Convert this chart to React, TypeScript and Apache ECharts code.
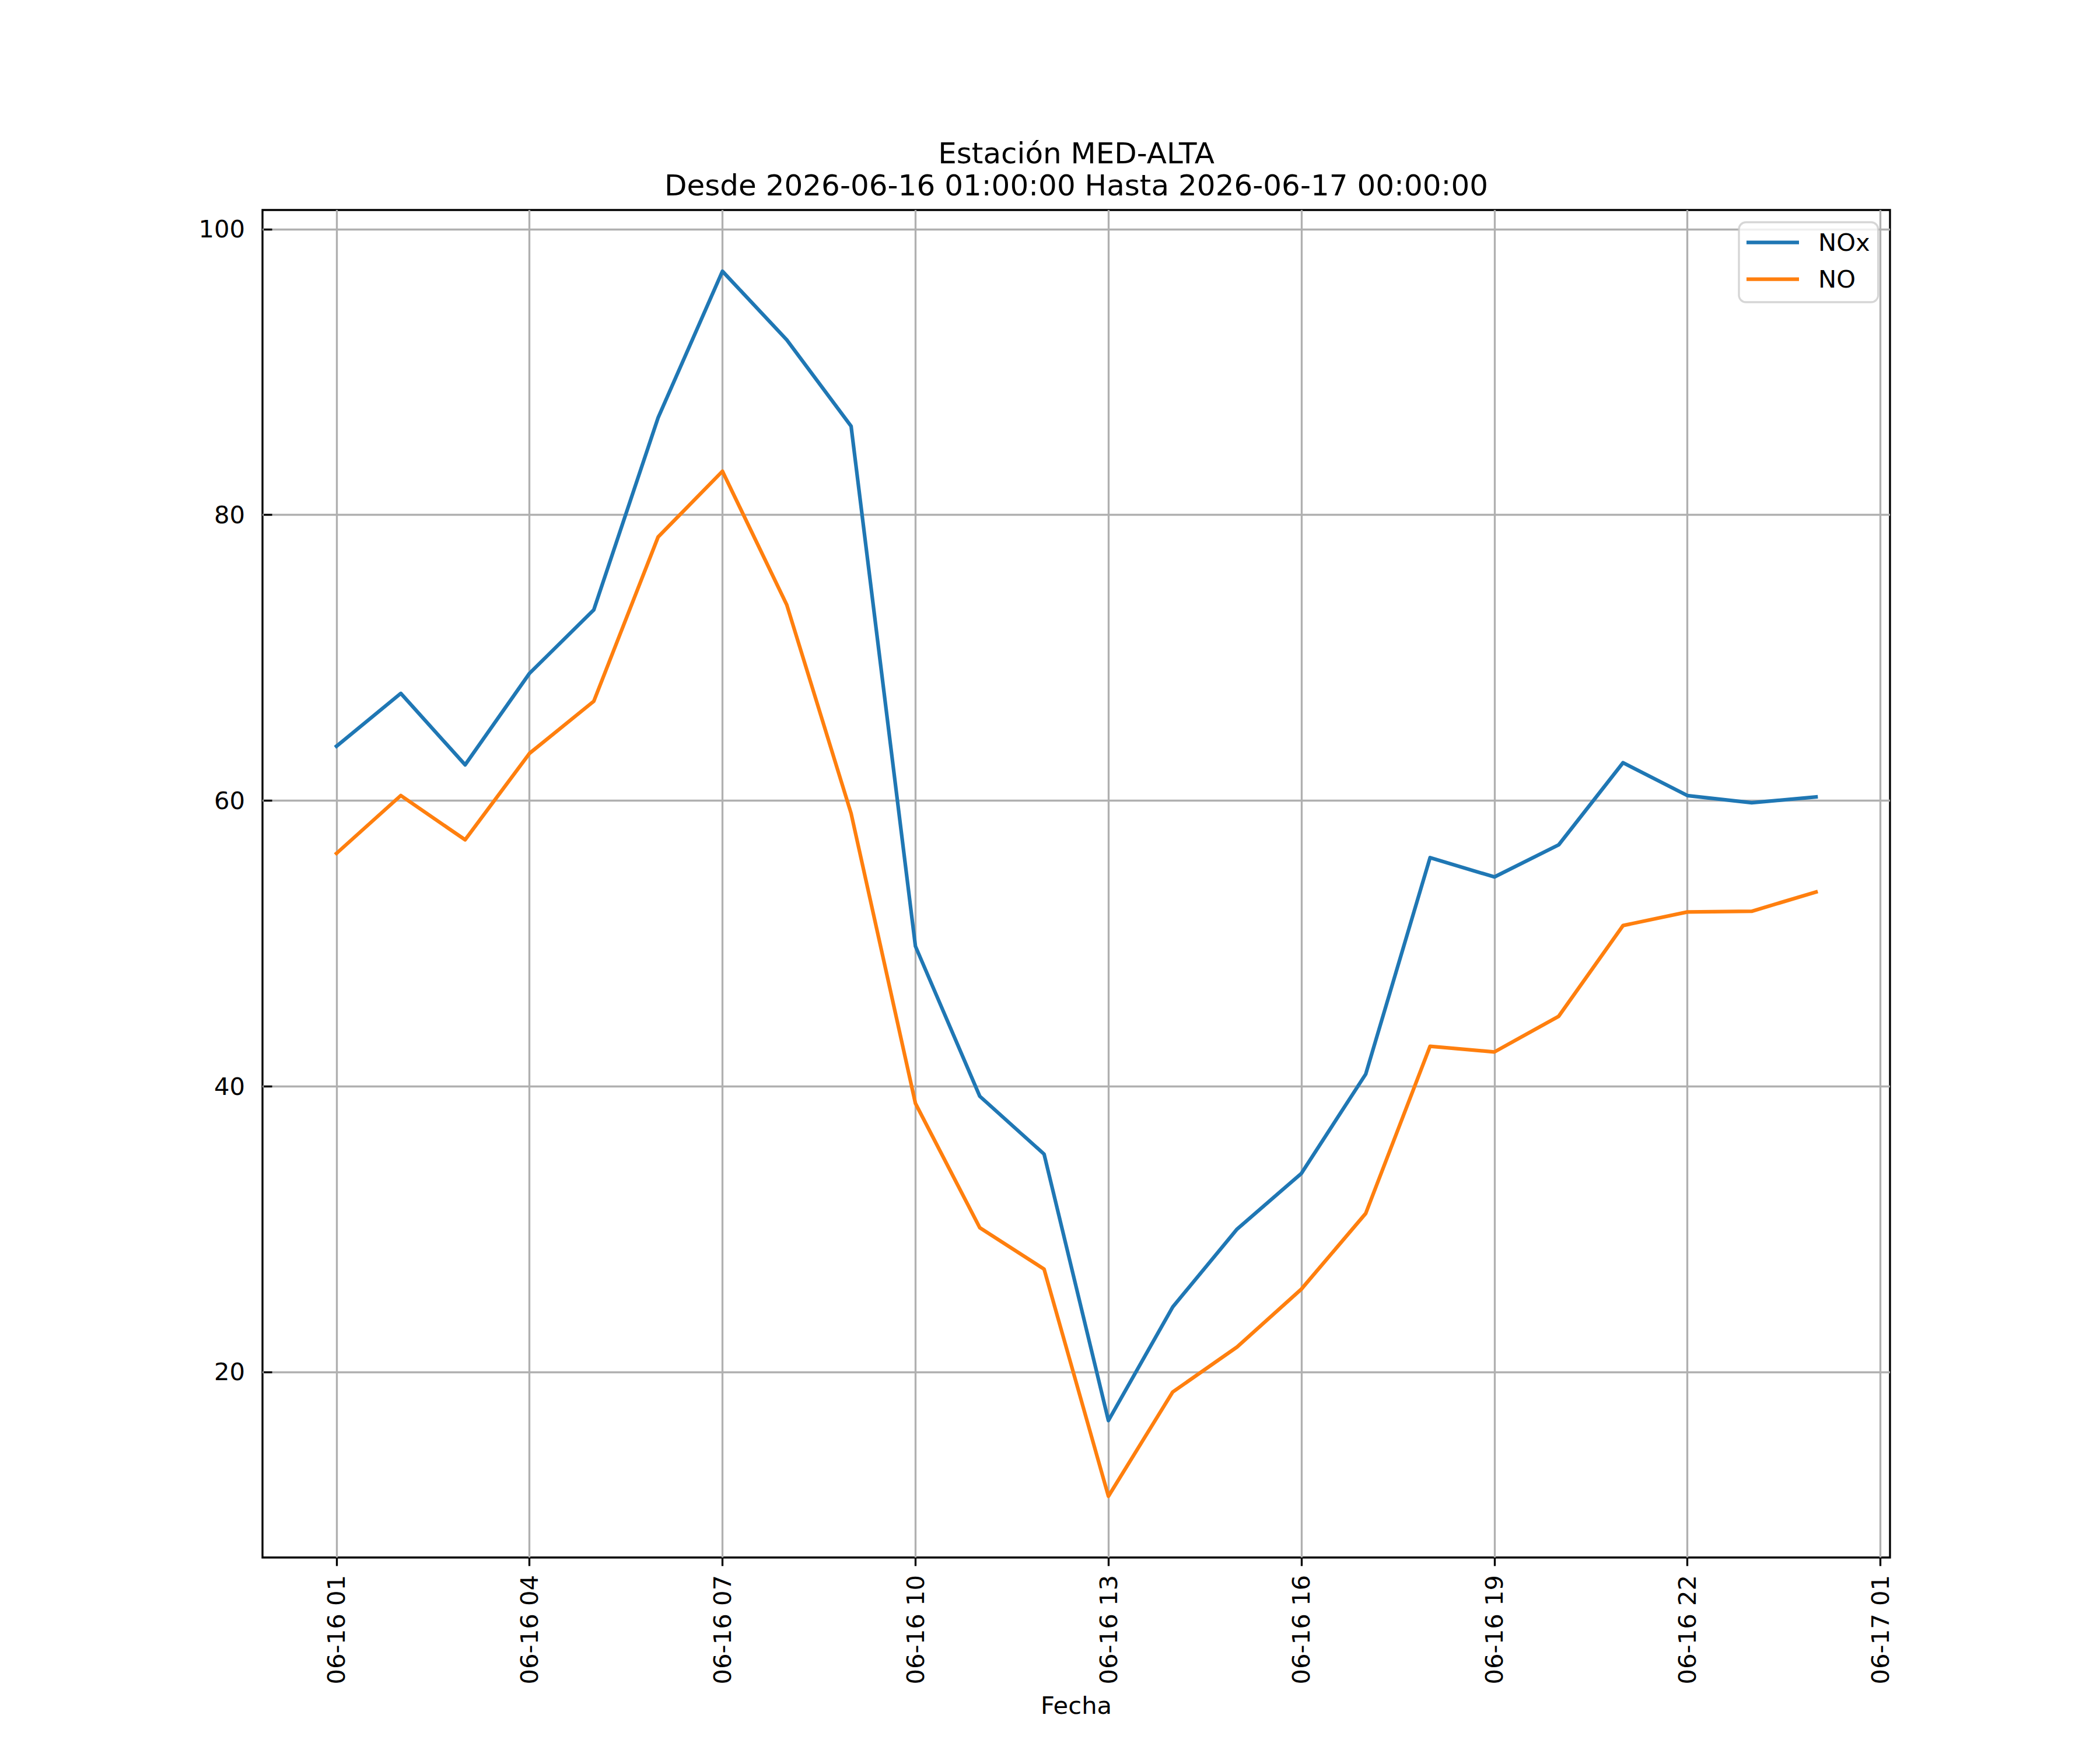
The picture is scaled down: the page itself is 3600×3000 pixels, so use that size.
import React, { useEffect, useRef } from "react";
import * as echarts from "echarts";

const timestamps = [
  "2026-06-16 01:00", "2026-06-16 02:00", "2026-06-16 03:00", "2026-06-16 04:00",
  "2026-06-16 05:00", "2026-06-16 06:00", "2026-06-16 07:00", "2026-06-16 08:00",
  "2026-06-16 09:00", "2026-06-16 10:00", "2026-06-16 11:00", "2026-06-16 12:00",
  "2026-06-16 13:00", "2026-06-16 14:00", "2026-06-16 15:00", "2026-06-16 16:00",
  "2026-06-16 17:00", "2026-06-16 18:00", "2026-06-16 19:00", "2026-06-16 20:00",
  "2026-06-16 21:00", "2026-06-16 22:00", "2026-06-16 23:00", "2026-06-17 00:00",
];

const noxValues = [
  63.8, 67.5, 62.5, 68.9, 73.35, 86.8, 97.05, 92.25, 86.2, 49.8, 39.3, 35.25,
  16.6, 24.55, 30.0, 33.9, 40.85, 56.0, 54.65, 56.9, 62.65, 60.35, 59.85, 60.25,
];

const noValues = [
  56.3, 60.35, 57.25, 63.3, 66.95, 78.45, 83.05, 73.7, 59.1, 38.8, 30.1, 27.2,
  11.3, 18.6, 21.75, 25.8, 31.1, 42.8, 42.4, 44.9, 51.25, 52.2, 52.25, 53.6,
];

const seriesNames = ["NOx", "NO"];
const seriesColors = ["#1f77b4", "#ff7f0e"];
const xTickHours = [1, 4, 7, 10, 13, 16, 19, 22, 25];
const yTickValues = [20, 40, 60, 80, 100];
const titleLines = [
  "Estación MED-ALTA",
  "Desde 2026-06-16 01:00:00 Hasta 2026-06-17 00:00:00",
];
const xAxisTitle = "Fecha";

const FONT = "DejaVu Sans";

function toHours(ts: string): number {
  const [d, t] = ts.split(" ");
  const day = parseInt(d.slice(8, 10), 10);
  const hr = parseInt(t.slice(0, 2), 10);
  return (day - 16) * 24 + hr;
}

function hourLabel(h: number): string {
  const hh = Math.round(h);
  const day = 16 + Math.floor(hh / 24);
  const hr = hh % 24;
  return `06-${day} ${String(hr).padStart(2, "0")}`;
}

export default function App() {
  const ref = useRef<HTMLDivElement>(null);

  useEffect(() => {
    document.body.style.margin = "0";
    if (!ref.current) return;
    const chart = echarts.init(ref.current, undefined, { renderer: "svg" });

    const xs = timestamps.map(toHours);
    const xMinD = Math.min(...xs);
    const xMaxD = Math.max(...xs);
    const xPad = (xMaxD - xMinD) * 0.05;
    const allY = [...noxValues, ...noValues];
    const yMinD = Math.min(...allY);
    const yMaxD = Math.max(...allY);
    const yPad = (yMaxD - yMinD) * 0.05;

    const gridLeft = 450;
    const gridTop = 360;
    const gridW = 2790;
    const gridH = 2310;
    const cx = gridLeft + gridW / 2;

    const values = [noxValues, noValues];

    chart.setOption({
      animation: false,
      backgroundColor: "#ffffff",
      grid: {
        left: gridLeft,
        top: gridTop,
        width: gridW,
        height: gridH,
        show: true,
        borderColor: "#000000",
        borderWidth: 3.33,
        backgroundColor: "transparent",
        containLabel: false,
      },
      xAxis: {
        type: "value",
        min: xMinD - xPad,
        max: xMaxD + xPad,
        axisLine: { show: false },
        axisTick: {
          show: true,
          customValues: xTickHours,
          length: 14.6,
          lineStyle: { color: "#000000", width: 3.33 },
        },
        axisLabel: {
          customValues: xTickHours,
          rotate: 90,
          margin: 30,
          fontSize: 41.7,
          fontFamily: FONT,
          color: "#000000",
          formatter: (v: number) => hourLabel(v),
        },
        splitLine: {
          show: true,
          lineStyle: { color: "#b0b0b0", width: 3.33 },
        },
      },
      yAxis: {
        type: "value",
        min: yMinD - yPad,
        max: yMaxD + yPad,
        axisLine: { show: false },
        axisTick: {
          show: true,
          customValues: yTickValues,
          length: 14.6,
          lineStyle: { color: "#000000", width: 3.33 },
        },
        axisLabel: {
          customValues: yTickValues,
          margin: 30,
          fontSize: 41.7,
          fontFamily: FONT,
          color: "#000000",
          formatter: (v: number) => String(Math.round(v)),
        },
        splitLine: {
          show: true,
          lineStyle: { color: "#b0b0b0", width: 3.33 },
        },
      },
      legend: {
        left: 2981,
        top: 381,
        orient: "vertical",
        align: "left",
        padding: [10.7, 14, 15.3, 13],
        itemGap: 15,
        itemWidth: 90,
        itemHeight: 6.25,
        icon: "rect",
        backgroundColor: "rgba(255,255,255,0.8)",
        borderColor: "rgba(204,204,204,0.8)",
        borderWidth: 3.33,
        borderRadius: 12,
        selectedMode: false,
        data: seriesNames.map((n, i) => ({
          name: n,
          icon: "rect",
          itemStyle: { color: seriesColors[i], borderWidth: 0 },
        })),
        textStyle: {
          fontSize: 41.7,
          fontFamily: FONT,
          color: "#000000",
          lineHeight: 48,
          padding: [0, 0, 0, 28],
        },
      },
      graphic: [
        {
          type: "text",
          x: cx,
          y: 262.7,
          silent: true,
          style: {
            text: titleLines[0],
            fontSize: 50,
            fontFamily: FONT,
            fill: "#000000",
            align: "center",
            verticalAlign: "middle",
          },
        },
        {
          type: "text",
          x: cx,
          y: 317.7,
          silent: true,
          style: {
            text: titleLines[1],
            fontSize: 50,
            fontFamily: FONT,
            fill: "#000000",
            align: "center",
            verticalAlign: "middle",
          },
        },
        {
          type: "text",
          x: cx,
          y: 2923.6,
          silent: true,
          style: {
            text: xAxisTitle,
            fontSize: 41.7,
            fontFamily: FONT,
            fill: "#000000",
            align: "center",
            verticalAlign: "middle",
          },
        },
      ],
      series: seriesNames.map((name, i) => ({
        name,
        type: "line",
        data: xs.map((x, j) => [x, values[i][j]]),
        showSymbol: false,
        symbol: "none",
        silent: true,
        itemStyle: { color: seriesColors[i] },
        lineStyle: {
          color: seriesColors[i],
          width: 6.25,
          cap: "square",
          join: "round",
        },
        emphasis: { disabled: true },
      })),
    });

    return () => {
      chart.dispose();
    };
  }, []);

  return <div ref={ref} style={{ width: 3600, height: 3000 }} />;
}
